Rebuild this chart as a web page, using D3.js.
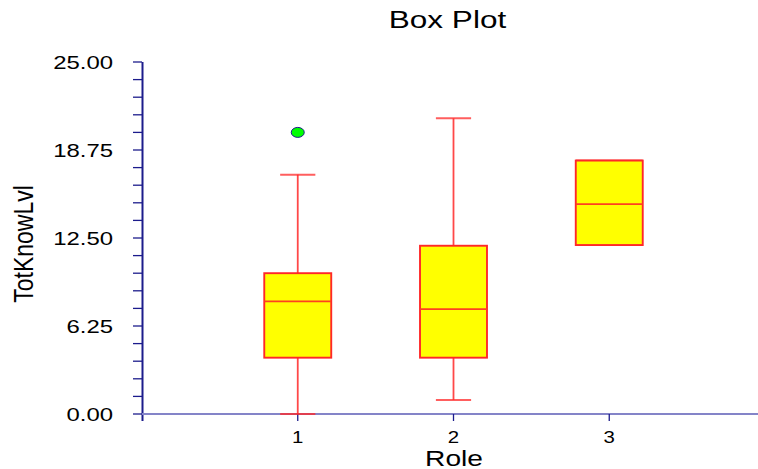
<!DOCTYPE html>
<html>
<head>
<meta charset="utf-8">
<script src="https://cdn.jsdelivr.net/npm/d3@7"></script>
<style>
  html, body { margin: 0; padding: 0; background: #fff; }
  svg { display: block; font-family: "Liberation Sans", Arial, sans-serif; }
</style>
</head>
<body>
<svg id="chart" width="758" height="469"></svg>
<script>
// Box plot of TotKnowLvl by Role
var categories   = [1, 2, 3];
var whiskerLow   = [0, 1, 12];
var q1           = [4, 4, 12];
var median       = [8, 7.45, 14.9];
var q3           = [10, 11.95, 18];
var whiskerHigh  = [17, 21, 18];
var outliers     = [{ role: 1, value: 20 }];
var yTickValues  = [0, 6.25, 12.5, 18.75, 25];

var W = 758, H = 469;
var svg = d3.select("#chart");

var x = d3.scaleLinear().domain([0, 4]).range([142, 765]);
var y = d3.scaleLinear().domain([0, 25]).range([414, 62]);

var NAVY = "#1c1c8c";
var RED = "#ff2828";

// stretched text helper (the source renders its fonts wide)
function label(txt, px, py, size, sx, anchor, rot) {
  var t = "translate(" + px + "," + py + ")";
  if (rot) t += " scale(" + sx + ",1) rotate(" + rot + ")";
  else t += " scale(" + sx + ",1)";
  return svg.append("text")
    .attr("transform", t)
    .attr("text-anchor", anchor || "middle")
    .attr("font-size", size)
    .attr("fill", "#000")
    .text(txt);
}

// ── Title / axis titles ──────────────────────────────────────────────
label("Box Plot", 447.5, 28, 23, 1.37);
label("Role", 454, 466, 21.5, 1.31);
label("TotKnowLvl", 33, 244, 23, 1.19, "middle", -90);

// ── Y axis ───────────────────────────────────────────────────────────
svg.append("line")
  .attr("x1", 142.5).attr("x2", 142.5)
  .attr("y1", y(25)).attr("y2", 421)
  .attr("stroke", NAVY).attr("stroke-width", 2);

var minorTicks = d3.range(0, 21).map(function (i) { return i * 1.25; });
svg.append("g").selectAll("line")
  .data(minorTicks)
  .join("line")
  .attr("x1", 133).attr("x2", 142)
  .attr("y1", function (d) { return y(d); })
  .attr("y2", function (d) { return y(d); })
  .attr("stroke", NAVY).attr("stroke-width", 1.3);

svg.append("g").selectAll("text")
  .data(yTickValues)
  .join("text")
  .attr("transform", function (d) { return "translate(113," + (y(d) + 6.5) + ") scale(1.33,1)"; })
  .attr("text-anchor", "end")
  .attr("font-size", 18)
  .text(function (d) { return d.toFixed(2); });

// ── X axis ───────────────────────────────────────────────────────────
svg.append("line")
  .attr("x1", 142).attr("x2", W)
  .attr("y1", y(0)).attr("y2", y(0))
  .attr("stroke", "#8484c8").attr("stroke-width", 2);

svg.append("g").selectAll("line")
  .data(categories)
  .join("line")
  .attr("x1", function (d) { return x(d); })
  .attr("x2", function (d) { return x(d); })
  .attr("y1", y(0)).attr("y2", 421)
  .attr("stroke", NAVY).attr("stroke-width", 1.3);

svg.append("g").selectAll("text")
  .data(categories)
  .join("text")
  .attr("transform", function (d) { return "translate(" + x(d) + ",443) scale(1.2,1)"; })
  .attr("text-anchor", "middle")
  .attr("font-size", 17)
  .text(function (d) { return d; });

// ── Boxes ────────────────────────────────────────────────────────────
var step = x(1) - x(0);
var boxHalf = step * 0.215;
var capHalf = step * 0.113;

var boxes = categories.map(function (c, i) {
  return { c: c, lo: whiskerLow[i], q1: q1[i], med: median[i], q3: q3[i], hi: whiskerHigh[i] };
});

var g = svg.append("g").selectAll("g").data(boxes).join("g");

// whiskers
g.append("line")
  .attr("x1", function (d) { return x(d.c); }).attr("x2", function (d) { return x(d.c); })
  .attr("y1", function (d) { return y(d.hi); }).attr("y2", function (d) { return y(d.q3); })
  .attr("stroke", RED).attr("stroke-width", 1.8).attr("stroke-opacity", 0.85);
g.append("line")
  .attr("x1", function (d) { return x(d.c); }).attr("x2", function (d) { return x(d.c); })
  .attr("y1", function (d) { return y(d.q1); }).attr("y2", function (d) { return y(d.lo); })
  .attr("stroke", RED).attr("stroke-width", 1.8).attr("stroke-opacity", 0.85);

// whisker caps
["hi", "lo"].forEach(function (k) {
  g.append("line")
    .attr("x1", function (d) { return x(d.c) - (d.hi === d.q3 ? boxHalf : capHalf); })
    .attr("x2", function (d) { return x(d.c) + (d.hi === d.q3 ? boxHalf : capHalf); })
    .attr("y1", function (d) { return y(d[k]); }).attr("y2", function (d) { return y(d[k]); })
    .attr("stroke", RED).attr("stroke-width", 2).attr("stroke-opacity", 0.75);
});

// box
g.append("rect")
  .attr("x", function (d) { return x(d.c) - boxHalf; })
  .attr("width", boxHalf * 2)
  .attr("y", function (d) { return y(d.q3); })
  .attr("height", function (d) { return y(d.q1) - y(d.q3); })
  .attr("fill", "#ffff00")
  .attr("stroke", RED).attr("stroke-width", 1.9);

// median
g.append("line")
  .attr("x1", function (d) { return x(d.c) - boxHalf; })
  .attr("x2", function (d) { return x(d.c) + boxHalf; })
  .attr("y1", function (d) { return y(d.med); }).attr("y2", function (d) { return y(d.med); })
  .attr("stroke", "#ff4020").attr("stroke-width", 1.8);

// outliers
svg.append("g").selectAll("ellipse")
  .data(outliers)
  .join("ellipse")
  .attr("cx", function (d) { return x(d.role); })
  .attr("cy", function (d) { return y(d.value); })
  .attr("rx", 6.5).attr("ry", 5)
  .attr("fill", "#00ff00")
  .attr("stroke", NAVY).attr("stroke-width", 1);
</script>
</body>
</html>
